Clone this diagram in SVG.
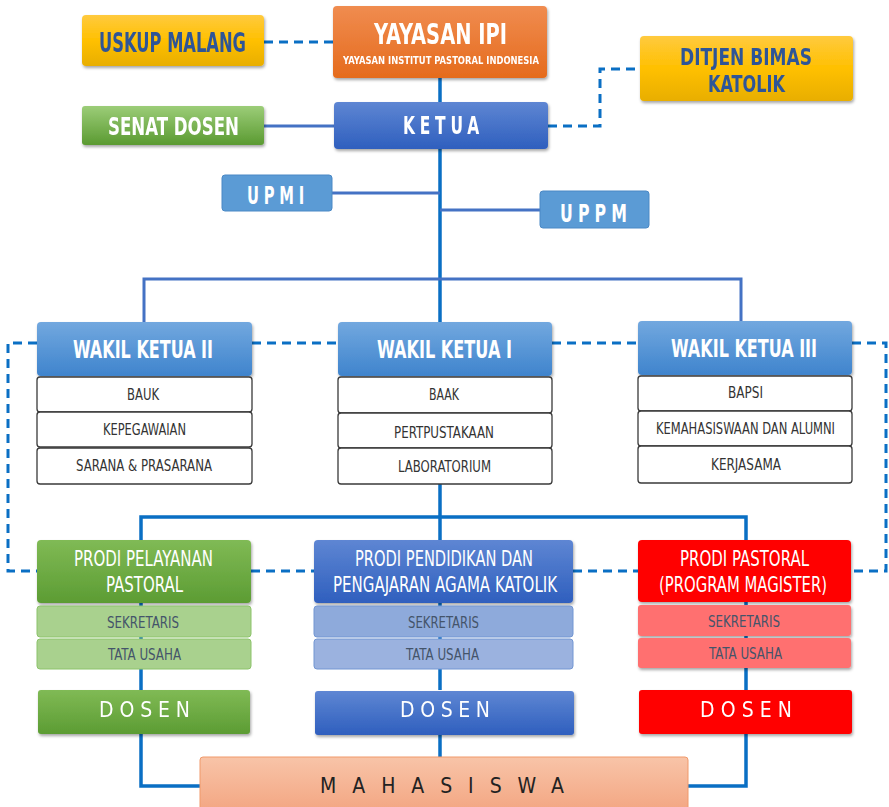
<svg xmlns="http://www.w3.org/2000/svg" width="889" height="807" viewBox="0 0 889 807">
<defs>
<linearGradient id="gYel" x1="0" y1="0" x2="0" y2="1"><stop offset="0" stop-color="#ffca3f"/><stop offset="0.5" stop-color="#ffc000"/><stop offset="1" stop-color="#e8ae00"/></linearGradient>
<linearGradient id="gOra" x1="0" y1="0" x2="0" y2="1"><stop offset="0" stop-color="#f08c50"/><stop offset="1" stop-color="#e56b1c"/></linearGradient>
<linearGradient id="gBlu" x1="0" y1="0" x2="0" y2="1"><stop offset="0" stop-color="#5e86d3"/><stop offset="1" stop-color="#2f5fbe"/></linearGradient>
<linearGradient id="gGrn" x1="0" y1="0" x2="0" y2="1"><stop offset="0" stop-color="#9ccd78"/><stop offset="1" stop-color="#5a9a31"/></linearGradient>
<linearGradient id="gGrn2" x1="0" y1="0" x2="0" y2="1"><stop offset="0" stop-color="#80ba55"/><stop offset="1" stop-color="#5c9c33"/></linearGradient>
<linearGradient id="gWk" x1="0" y1="0" x2="0" y2="1"><stop offset="0" stop-color="#72a8df"/><stop offset="1" stop-color="#3f84cd"/></linearGradient>
<linearGradient id="gSal" x1="0" y1="0" x2="0" y2="1"><stop offset="0" stop-color="#f8c4a8"/><stop offset="1" stop-color="#f3a581"/></linearGradient>
<filter id="sh" x="-10%" y="-20%" width="120%" height="150%"><feDropShadow dx="1" dy="2" stdDeviation="1.8" flood-color="#000" flood-opacity="0.35"/></filter>
</defs>
<style>
.t{font-family:"DejaVu Sans Condensed","DejaVu Sans",sans-serif;}
.b{font-weight:bold;}
.w{fill:#ffffff;}
.db{fill:#2f5597;}
.g{fill:#333333;font-size:15px;}
.p{fill:#44546a;font-size:15px;}
.ls{letter-spacing:7px;}
.sub{fill:#ffffff;stroke:#3a3a3a;stroke-width:1.3;}
.solid{fill:none;stroke:#0a6fc4;stroke-width:3.5;}
.bus{fill:none;stroke:#4472c4;stroke-width:3;}
.dash{fill:none;stroke:#0a6fc4;stroke-width:3;stroke-dasharray:9 6;}
</style>
<rect width="889" height="807" fill="#ffffff"/>
<g id="connectors">
<path class="dash" d="M264 42 H333"/>
<path class="dash" d="M548 126 H600 V69 H640"/>
<path class="dash" d="M37 343 H8 V571 H37 M252 343 H338 M552 343 H638 M852 343 H886 V571 H851 M251 571 H314 M573 571 H638"/>
<path class="bus" d="M264 126 H334"/>
<path class="solid" d="M440 78 V102 M440 149 V322 M440 483 V690 M440 735 V757"/>
<path class="bus" d="M332 193 H440 M440 210 H540"/>
<path class="bus" d="M144 322 V279 H741 V322"/>
<path class="solid" d="M141 540 V517 H746 V540"/>
<path class="solid" d="M141 603 V690 M746 602 V690"/>
<path class="solid" d="M141 734 V786 H200 M746 734 V786 H688"/>
</g>
<g id="uskup" filter="url(#sh)">
<rect x="82" y="15" width="182" height="51" rx="4" fill="url(#gYel)"/>
<text class="t b db" x="99" y="52" font-size="26" textLength="147" lengthAdjust="spacingAndGlyphs">USKUP MALANG</text>
</g>
<g id="yayasan" filter="url(#sh)">
<rect x="333" y="6" width="214" height="72" rx="4" fill="url(#gOra)"/>
<text class="t b w" x="374" y="44" font-size="28" textLength="133" lengthAdjust="spacingAndGlyphs">YAYASAN IPI</text>
<text class="t b w" x="343" y="64" font-size="10" textLength="196" lengthAdjust="spacingAndGlyphs">YAYASAN INSTITUT PASTORAL INDONESIA</text>
</g>
<g id="ditjen" filter="url(#sh)">
<rect x="640" y="36" width="213" height="65" rx="4" fill="url(#gYel)"/>
<text class="t b db" x="680" y="65" font-size="23" textLength="132" lengthAdjust="spacingAndGlyphs">DITJEN BIMAS</text>
<text class="t b db" x="708" y="92" font-size="23" textLength="77" lengthAdjust="spacingAndGlyphs">KATOLIK</text>
</g>
<g id="senat" filter="url(#sh)">
<rect x="82" y="106" width="182" height="39" rx="3" fill="url(#gGrn)"/>
<text class="t b w" x="108" y="135" font-size="25" textLength="131" lengthAdjust="spacingAndGlyphs">SENAT DOSEN</text>
</g>
<g id="ketua" filter="url(#sh)">
<rect x="334" y="102" width="214" height="47" rx="4" fill="url(#gBlu)"/>
<text class="t b w ls" x="403" y="134" font-size="25" textLength="81" lengthAdjust="spacingAndGlyphs">KETUA</text>
</g>
<g id="upmi">
<rect x="222" y="175" width="110" height="36" rx="3" fill="#5b9bd5" stroke="#4a88c5" stroke-width="1"/>
<text class="t b w ls" x="247" y="204" font-size="24" textLength="62" lengthAdjust="spacingAndGlyphs">UPMI</text>
</g>
<g id="uppm">
<rect x="540" y="191" width="109" height="37" rx="3" fill="#5b9bd5" stroke="#4a88c5" stroke-width="1"/>
<text class="t b w ls" x="560" y="222" font-size="24" textLength="72" lengthAdjust="spacingAndGlyphs">UPPM</text>
</g>
<g id="wakil2">
<rect x="37" y="322" width="215" height="54" rx="4" fill="url(#gWk)" filter="url(#sh)"/>
<text class="t b w" x="73" y="358" font-size="24" textLength="140" lengthAdjust="spacingAndGlyphs">WAKIL KETUA II</text>
<rect class="sub" x="37" y="377" width="215" height="35" rx="3"/>
<rect class="sub" x="37" y="412" width="215" height="35" rx="3"/>
<rect class="sub" x="37" y="448" width="215" height="36" rx="3"/>
<text class="t g" x="127" y="400" textLength="32" lengthAdjust="spacingAndGlyphs">BAUK</text>
<text class="t g" x="103" y="435" textLength="83" lengthAdjust="spacingAndGlyphs">KEPEGAWAIAN</text>
<text class="t g" x="76" y="471" textLength="136" lengthAdjust="spacingAndGlyphs">SARANA &amp; PRASARANA</text>
</g>
<g id="wakil1">
<rect x="338" y="322" width="214" height="54" rx="4" fill="url(#gWk)" filter="url(#sh)"/>
<text class="t b w" x="377" y="358" font-size="24" textLength="135" lengthAdjust="spacingAndGlyphs">WAKIL KETUA I</text>
<rect class="sub" x="338" y="377" width="214" height="36" rx="3"/>
<rect class="sub" x="338" y="413" width="214" height="35" rx="3"/>
<rect class="sub" x="338" y="448" width="214" height="36" rx="3"/>
<text class="t g" x="429" y="400" textLength="30" lengthAdjust="spacingAndGlyphs">BAAK</text>
<text class="t g" x="394" y="438" textLength="100" lengthAdjust="spacingAndGlyphs">PERTPUSTAKAAN</text>
<text class="t g" x="398" y="472" textLength="93" lengthAdjust="spacingAndGlyphs">LABORATORIUM</text>
</g>
<g id="wakil3">
<rect x="638" y="321" width="214" height="54" rx="4" fill="url(#gWk)" filter="url(#sh)"/>
<text class="t b w" x="671" y="357" font-size="24" textLength="146" lengthAdjust="spacingAndGlyphs">WAKIL KETUA III</text>
<rect class="sub" x="638" y="376" width="214" height="35" rx="3"/>
<rect class="sub" x="638" y="411" width="214" height="35" rx="3"/>
<rect class="sub" x="638" y="446" width="214" height="37" rx="3"/>
<text class="t g" x="728" y="398" textLength="35" lengthAdjust="spacingAndGlyphs">BAPSI</text>
<text class="t g" x="656" y="434" textLength="179" lengthAdjust="spacingAndGlyphs">KEMAHASISWAAN DAN ALUMNI</text>
<text class="t g" x="711" y="470" textLength="70" lengthAdjust="spacingAndGlyphs">KERJASAMA</text>
</g>
<g id="prodi-pelayanan">
<rect x="37" y="540" width="214" height="63" rx="4" fill="url(#gGrn2)" filter="url(#sh)"/>
<text class="t w" x="74" y="566" font-size="21" textLength="139" lengthAdjust="spacingAndGlyphs">PRODI PELAYANAN</text>
<text class="t w" x="106" y="592" font-size="21" textLength="77" lengthAdjust="spacingAndGlyphs">PASTORAL</text>
<rect x="37" y="606" width="214" height="31" rx="3" fill="#a9d18e" stroke="#8cc36a" stroke-width="1"/>
<rect x="37" y="639" width="214" height="30" rx="3" fill="#a9d18e" stroke="#8cc36a" stroke-width="1"/>
<text class="t p" x="107" y="628" textLength="72" lengthAdjust="spacingAndGlyphs">SEKRETARIS</text>
<text class="t p" x="108" y="660" textLength="73" lengthAdjust="spacingAndGlyphs">TATA USAHA</text>
</g>
<g id="prodi-pendidikan">
<rect x="314" y="540" width="259" height="63" rx="4" fill="url(#gBlu)" filter="url(#sh)"/>
<text class="t w" x="355" y="566" font-size="21" textLength="178" lengthAdjust="spacingAndGlyphs">PRODI PENDIDIKAN DAN</text>
<text class="t w" x="333" y="592" font-size="21" textLength="224" lengthAdjust="spacingAndGlyphs">PENGAJARAN AGAMA KATOLIK</text>
<rect x="314" y="606" width="259" height="31" rx="3" fill="#8eaadb" stroke="#7396d2" stroke-width="1"/>
<rect x="314" y="639" width="259" height="30" rx="3" fill="#9bb2df" stroke="#7396d2" stroke-width="1"/>
<text class="t p" x="408" y="628" textLength="71" lengthAdjust="spacingAndGlyphs">SEKRETARIS</text>
<text class="t p" x="406" y="660" textLength="73" lengthAdjust="spacingAndGlyphs">TATA USAHA</text>
</g>
<g id="prodi-pastoral">
<rect x="638" y="540" width="213" height="62" rx="4" fill="#ff0000" filter="url(#sh)"/>
<text class="t w" x="680" y="566" font-size="21" textLength="129" lengthAdjust="spacingAndGlyphs">PRODI PASTORAL</text>
<text class="t w" x="659" y="592" font-size="21" textLength="168" lengthAdjust="spacingAndGlyphs">(PROGRAM MAGISTER)</text>
<rect x="638" y="605" width="213" height="31" rx="3" fill="#ff7070" filter="url(#sh)"/>
<rect x="638" y="638" width="213" height="30" rx="3" fill="#ff7070" filter="url(#sh)"/>
<text class="t p" x="708" y="627" textLength="72" lengthAdjust="spacingAndGlyphs">SEKRETARIS</text>
<text class="t p" x="709" y="659" textLength="73" lengthAdjust="spacingAndGlyphs">TATA USAHA</text>
</g>
<g id="dosen-pelayanan" filter="url(#sh)">
<rect x="38" y="690" width="212" height="44" rx="3" fill="url(#gGrn2)"/>
<text class="t w" x="99" y="717" font-size="21" textLength="91" lengthAdjust="spacing">DOSEN</text>
</g>
<g id="dosen-pendidikan" filter="url(#sh)">
<rect x="315" y="691" width="259" height="44" rx="3" fill="url(#gBlu)"/>
<text class="t w" x="400" y="717" font-size="21" textLength="90" lengthAdjust="spacing">DOSEN</text>
</g>
<g id="dosen-pastoral" filter="url(#sh)">
<rect x="639" y="690" width="213" height="44" rx="3" fill="#ff0000"/>
<text class="t w" x="700" y="717" font-size="21" textLength="92" lengthAdjust="spacing">DOSEN</text>
</g>
<g id="mahasiswa">
<rect x="200" y="757" width="488" height="56" rx="3" fill="url(#gSal)" stroke="#f0996a" stroke-width="1"/>
<text class="t" x="320" y="793" font-size="21" fill="#222222" textLength="244" lengthAdjust="spacing">MAHASISWA</text>
</g>
</svg>
